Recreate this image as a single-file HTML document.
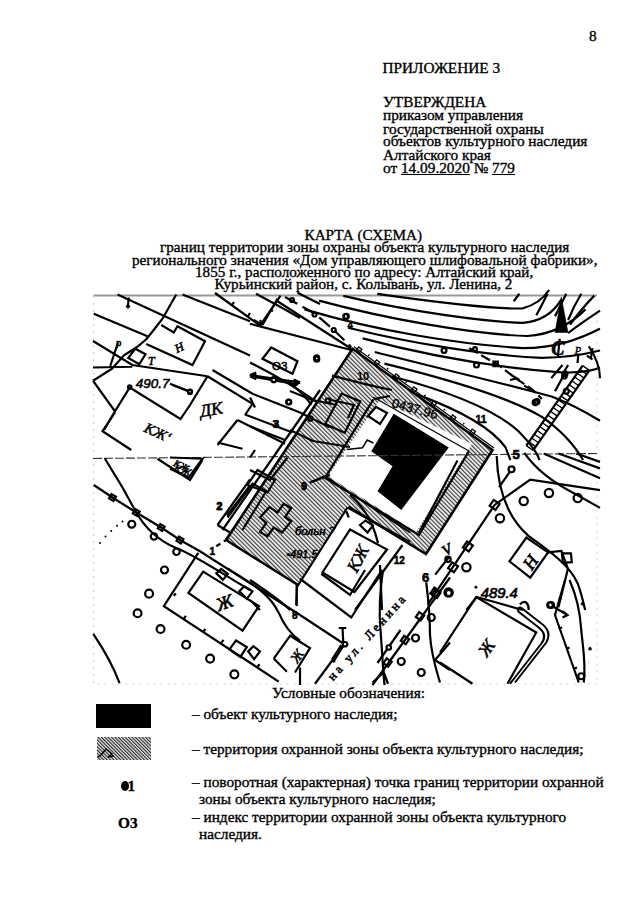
<!DOCTYPE html>
<html><head><meta charset="utf-8">
<style>
html,body{margin:0;padding:0;background:#fff;}
body{width:640px;height:905px;position:relative;overflow:hidden;font-family:"Liberation Serif",serif;color:#000;}
.t{position:absolute;white-space:nowrap;line-height:1;-webkit-text-stroke:0.35px #000;}
.hdr{font-size:15.3px;}
.ctr{font-size:15.2px;}
.leg{font-size:15.3px;}
svg{position:absolute;left:0;top:0;}
#map g[transform] text{stroke:#000;stroke-width:2.2px;}
</style></head><body>
<div class="t hdr m" style="left:589px;top:27.8px;">8</div>
<div class="t hdr m" style="left:382.5px;top:59.7px;">ПРИЛОЖЕНИЕ 3</div>
<div class="t hdr m" style="left:383px;top:94.1px;">УТВЕРЖДЕНА</div>
<div class="t hdr m" style="left:383px;top:107.4px;">приказом управления</div>
<div class="t hdr m" style="left:383px;top:120.9px;">государственной охраны</div>
<div class="t hdr m" style="left:383px;top:133.4px;">объектов культурного наследия</div>
<div class="t hdr m" style="left:383px;top:146.9px;">Алтайского края</div>
<div class="t hdr m" style="left:383px;top:160.3px;">от <u>14.09.2020</u> № <u>779</u></div>

<div class="t ctr m" style="left:304.5px;top:226.8px;">КАРТА (СХЕМА)</div>
<div class="t ctr m" style="left:160px;top:239.3px;">границ территории зоны охраны объекта культурного наследия</div>
<div class="t ctr m" style="left:132px;top:252.0px;">регионального значения «Дом управляющего шлифовальной фабрики»,</div>
<div class="t ctr m" style="left:195px;top:264.0px;">1855 г., расположенного по адресу: Алтайский край,</div>
<div class="t ctr m" style="left:214.5px;top:276.1px;">Курьинский район, с. Колывань, ул. Ленина, 2</div>

<svg id="map" width="640" height="905" viewBox="0 0 640 905">
  <path d="M93.5,295.5 L597,295.5" stroke="#999" stroke-width="1.8" fill="none"/>
  <path d="M93.5,296 L93.5,684 L597,684 L597,296" stroke="#ccc" stroke-width="1" stroke-dasharray="2 5" fill="none"/>
<!--MAP-->
<defs>
<pattern id="zh" width="3" height="3" patternUnits="userSpaceOnUse" patternTransform="rotate(-45)">
<rect width="3" height="3" fill="#f2f2f2"/>
<rect width="1.15" height="3" fill="#3a3a3a"/>
</pattern>
</defs>
<path d="M226,540 L352.5,348.75 L492.5,450 L426,554 L348.6,506.7 L298,585 Z" fill="url(#zh)" stroke="none"/>
<path d="M380,400 L472,444 L416,532 L328,476 Z" fill="#fff" stroke="none"/>
<path d="M393.75,413.75 L448.75,447.5 L401.25,510 L377.5,491.25 L392.5,466.25 L371.25,451.25 Z" fill="#000"/>
<path d="M93,458.5 L597,453.5" stroke="#333" stroke-width="1.1" stroke-dasharray="9 2" fill="none"/>
<path d="M226,540 L352.5,348.75 L492.5,450 L426,554 L348.6,506.7 M298,585 L226,540" fill="none" stroke="#000" stroke-width="2.6"/>
<path d="M373.4,399.4 L325,478 L419,535 L469,451" fill="none" stroke="#000" stroke-width="2.2"/>
<path d="M346.9,449.4 L362.5,447.8 L367.2,440 L373.4,443" fill="none" stroke="#000" stroke-width="1.5"/>
<path d="M373,397 L469,451" fill="none" stroke="#000" stroke-width="1.2"/>
<g transform="translate(90 290) scale(0.25)" fill="none" stroke="#000" stroke-width="2.2" vector-effect="non-scaling-stroke">
<path vector-effect="non-scaling-stroke" d="M110,18 L640,262 M15,95 L230,185 M370,18 L640,125"/>
<path vector-effect="non-scaling-stroke" d="M345,18 L290,115 L250,166 L225,197 L187,229 L137,260 L87,316 L12,363"/>
<path vector-effect="non-scaling-stroke" d="M285,140 L335,170 L350,145 L460,205 L410,300 L225,216"/>
<path vector-effect="non-scaling-stroke" d="M12,204 L169,300 L470,345 M12,310 L169,307 M112,210 L81,304"/>
<path vector-effect="non-scaling-stroke" d="M153,272 L181,235 L222,257 L197,297 Z"/>
<path vector-effect="non-scaling-stroke" d="M12,363 L100,485 L56,560 M100,485 L159,390 L362,516 L400,460 L470,345"/>
<path vector-effect="non-scaling-stroke" d="M328,379 L392,404"/>
<circle vector-effect="non-scaling-stroke" cx="400" cy="406" r="8"/>
<circle vector-effect="non-scaling-stroke" cx="159" cy="388" r="7"/>
<path vector-effect="non-scaling-stroke" d="M155,30 L152,60" />
<circle cx="152" cy="66" r="7" fill="#000"/>
<text x="183" y="392" font-family="Liberation Sans" font-style="italic" font-size="54" fill="#000" stroke="none" transform="rotate(0)">490.7</text>
<text x="340" y="245" font-family="Liberation Serif" font-style="italic" font-size="48" fill="#000" stroke="none" transform="rotate(-25 360 230)">Н</text>
<text x="232" y="300" font-family="Liberation Serif" font-style="italic" font-size="48" fill="#000" stroke="none">Т</text>
<text x="105" y="222" font-family="Liberation Sans" font-size="36" fill="#000" stroke="none">р</text>
</g>
<g transform="translate(250 290) scale(0.25)" fill="none" stroke="#000" stroke-width="2.2">
<path vector-effect="non-scaling-stroke" d="M110,35 L50,140 M15,120 L50,140 M50,140 L40,120"/>
<path vector-effect="non-scaling-stroke" d="M0,135 C100,160 250,200 405,240"/>
<path vector-effect="non-scaling-stroke" d="M110,45 L405,235"/>
<path vector-effect="non-scaling-stroke" stroke-dasharray="14 6" d="M140,28 L260,95 L335,160 L405,228"/>
<circle vector-effect="non-scaling-stroke" cx="168" cy="40" r="8"/>
<circle vector-effect="non-scaling-stroke" cx="258" cy="98" r="8"/>
<circle vector-effect="non-scaling-stroke" cx="335" cy="160" r="8"/>
<circle vector-effect="non-scaling-stroke" cx="385" cy="105" r="10"/>
<circle vector-effect="non-scaling-stroke" cx="267" cy="277" r="10"/>
<circle vector-effect="non-scaling-stroke" cx="155" cy="448" r="10"/>
<path vector-effect="non-scaling-stroke" d="M50,275 L85,230 L190,285 L170,335 Z"/>
<text x="88" y="318" font-family="Liberation Sans" font-size="46" fill="#000" stroke="#000" stroke-width="2">O3</text>
<text x="390" y="155" font-family="Liberation Sans" font-size="40" fill="#000" stroke="none">4</text>
<path vector-effect="non-scaling-stroke" d="M0,345 L190,378 M0,345 L25,335 M0,345 L25,357 M190,378 L170,362 M190,378 L168,385"/>
<circle vector-effect="non-scaling-stroke" cx="95" cy="357" r="9" fill="#fff"/>
<path vector-effect="non-scaling-stroke" d="M0,290 C80,330 170,380 270,450"/>
<path vector-effect="non-scaling-stroke" d="M150,360 C190,400 220,420 245,460"/>
<path vector-effect="non-scaling-stroke" d="M0,545 L140,600 M0,430 L20,470"/>
<text x="95" y="552" font-family="Liberation Sans" font-size="40" fill="#000" stroke="none">3</text>
</g>
<g transform="translate(290 290) scale(0.484375)" fill="none" stroke="#000" stroke-width="2.2">
<path vector-effect="non-scaling-stroke" d="M180,8 C300,25 420,40 480,38 C510,30 525,15 535,0"/>
<path vector-effect="non-scaling-stroke" d="M110,12 C250,45 400,65 480,68 C520,65 545,45 560,20"/>
<path vector-effect="non-scaling-stroke" d="M60,22 C200,60 380,92 490,95 C540,92 580,70 610,40"/>
<path vector-effect="non-scaling-stroke" d="M30,40 C180,85 350,112 480,120 C550,120 600,100 640,80"/>
<path vector-effect="non-scaling-stroke" d="M120,78 C250,110 400,135 520,140 C580,140 620,130 640,125"/>
<path vector-effect="non-scaling-stroke" d="M150,100 C300,140 450,162 560,170 C600,172 630,165 640,160"/>
<path vector-effect="non-scaling-stroke" d="M175,128 C320,165 450,195 540,220 C580,235 620,258 640,270"/>
<path vector-effect="non-scaling-stroke" d="M195,152 C330,185 450,220 520,262 C560,290 590,325 605,351"/>
<path vector-effect="non-scaling-stroke" d="M210,178 C330,210 420,245 470,290 C495,315 510,335 515,351"/>
<path vector-effect="non-scaling-stroke" d="M260,215 C370,255 420,290 445,325 L455,351"/>
<path vector-effect="non-scaling-stroke" stroke-dasharray="10 4" d="M370,120 L430,155 L470,185 L500,205 L520,225"/>
<circle vector-effect="non-scaling-stroke" cx="115" cy="55" r="5"/>
<circle vector-effect="non-scaling-stroke" cx="55" cy="140" r="5"/>
<circle vector-effect="non-scaling-stroke" cx="318" cy="125" r="5"/>
<circle vector-effect="non-scaling-stroke" cx="385" cy="155" r="5"/>
<circle vector-effect="non-scaling-stroke" cx="510" cy="230" r="5"/>
<circle vector-effect="non-scaling-stroke" cx="382" cy="122" r="4"/>
<rect vector-effect="non-scaling-stroke" x="420" y="148" width="9" height="9"/>
</g>
<g fill="none" stroke="#000" stroke-width="2.2">
<path d="M325.2,424 L341.6,393.6 L360.3,401.4 L344.7,432.7 Z"/>
<path d="M331,400 L354,405 L348,418"/>
<circle cx="328" cy="400.6" r="2.2"/>
<circle cx="310.3" cy="418.6" r="2.2"/>
<path d="M332,375.6 C350,380 370,386 392,390"/>
<path d="M290,391 L312,400 L337,405"/>
<path d="M290,430 L313,441 L350,447"/>
<path d="M368,416 L376,407 L387,413 L380,424 Z"/>
<path d="M374,399 L390,396"/>
<text x="357" y="380" font-family="Liberation Sans" font-weight="bold" font-size="11" fill="#000" stroke="none">10</text>
<text x="391" y="407" font-family="Liberation Sans" font-size="13" fill="#000" stroke="#000" stroke-width="0.4" transform="rotate(15 391 407)">0437.96</text>
</g>
<g fill="none" stroke="#000">
<path stroke-width="2.2" d="M533.1,450.4 L589.4,370.4 M526.3,445.6 L582.6,365.6"/>
<path stroke-width="1.3" d="M533.1,450.4 L526.3,445.6 M535.8,446.6 L528.9,441.8 M538.5,442.8 L531.6,438.0 M541.2,439.0 L534.3,434.2 M543.9,435.2 L537.0,430.3 M546.5,431.4 L539.7,426.5 M549.2,427.6 L542.4,422.7 M551.9,423.8 L545.0,418.9 M554.6,419.9 L547.7,415.1 M557.3,416.1 L550.4,411.3 M559.9,412.3 L553.1,407.5 M562.6,408.5 L555.8,403.7 M565.3,404.7 L558.4,399.9 M568.0,400.9 L561.1,396.1 M570.7,397.1 L563.8,392.2 M573.3,393.3 L566.5,388.4 M576.0,389.5 L569.2,384.6 M578.7,385.7 L571.8,380.8 M581.4,381.8 L574.5,377.0 M584.1,378.0 L577.2,373.2 M586.8,374.2 L579.9,369.4 M589.4,370.4 L582.6,365.6"/>
<path stroke-width="1.2" d="M354.0,346.7 L494.0,448.0"/>
<rect x="357.1" y="347.8" width="4" height="4" stroke-width="1.3" transform="rotate(36 359.1 349.8)"/>
<rect x="374.9" y="360.7" width="4" height="4" stroke-width="1.3" transform="rotate(36 376.9 362.7)"/>
<rect x="394.4" y="374.8" width="4" height="4" stroke-width="1.3" transform="rotate(36 396.4 376.8)"/>
<rect x="412.2" y="387.7" width="4" height="4" stroke-width="1.3" transform="rotate(36 414.2 389.7)"/>
<rect x="431.7" y="401.7" width="4" height="4" stroke-width="1.3" transform="rotate(36 433.7 403.7)"/>
<rect x="451.1" y="415.8" width="4" height="4" stroke-width="1.3" transform="rotate(36 453.1 417.8)"/>
<rect x="470.6" y="429.9" width="4" height="4" stroke-width="1.3" transform="rotate(36 472.6 431.9)"/>
<path stroke-width="1.3" d="M368.3,355.9 l1.2,-1.6"/>
<path stroke-width="1.3" d="M387.0,369.4 l1.2,-1.6"/>
<path stroke-width="1.3" d="M405.6,382.8 l1.2,-1.6"/>
<path stroke-width="1.3" d="M424.2,396.3 l1.2,-1.6"/>
<path stroke-width="1.3" d="M443.7,410.4 l1.2,-1.6"/>
<path stroke-width="1.3" d="M463.1,424.4 l1.2,-1.6"/>
</g>
<g fill="none" stroke="#000" stroke-width="2.2">
<path d="M215,293 L260,325.6 L280.6,295.6 M232,305 l2,-3 M248,316 l2,-3 M270,310 l3,1"/>
<path d="M256,293.75 L278.75,306 L300,318"/>
<path d="M297.5,292.8 L320,304"/>
</g>
<g transform="translate(90 370) scale(0.25)" fill="none" stroke="#000" stroke-width="2.2">
<path vector-effect="non-scaling-stroke" d="M100,170 L50,245 L165,320"/>
<text x="215" y="265" font-family="Liberation Serif" font-style="italic" font-size="58" fill="#000" stroke="none" transform="rotate(25 260 250)">КЖ‘</text>
</g>
<g transform="translate(410 290) scale(0.25)" fill="none" stroke="#000" stroke-width="2.2">
<path d="M605,28 L580,170 L632,170 Z" fill="#000" stroke="#000"/>
<text x="565" y="258" font-family="Liberation Serif" font-style="italic" font-weight="bold" font-size="80" fill="#000" stroke="none">С</text>
<circle vector-effect="non-scaling-stroke" cx="620" cy="335" r="10"/>
<circle vector-effect="non-scaling-stroke" cx="625" cy="405" r="10"/>
<text x="262" y="530" font-family="Liberation Sans" font-weight="bold" font-size="42" fill="#000" stroke="none">11</text>
</g>
<g transform="translate(480 290) scale(0.1875)" fill="none" stroke="#000" stroke-width="2.2">
<path vector-effect="non-scaling-stroke" d="M360,20 C340,60 320,100 300,135"/>
<path vector-effect="non-scaling-stroke" d="M460,20 C440,60 420,100 400,140"/>
<path vector-effect="non-scaling-stroke" d="M540,20 C510,70 490,110 470,160"/>
<path vector-effect="non-scaling-stroke" d="M610,30 C560,80 520,130 480,185"/>
<path vector-effect="non-scaling-stroke" d="M640,110 C580,150 520,190 470,230"/>
<path vector-effect="non-scaling-stroke" d="M180,60 L210,20"/>
<path vector-effect="non-scaling-stroke" d="M425,260 L415,360"/>
<text x="505" y="340" font-family="Liberation Serif" font-style="italic" font-size="56" fill="#000" stroke="none">Р</text>
<path vector-effect="non-scaling-stroke" d="M525,340 L520,390 M600,310 L590,370 M570,350 L600,370"/>
<path vector-effect="non-scaling-stroke" d="M380,470 L440,400 M400,540 L460,430 M440,450 L470,400"/>
<circle vector-effect="non-scaling-stroke" cx="295" cy="600" r="14"/>
<circle vector-effect="non-scaling-stroke" cx="450" cy="460" r="12"/>
<path vector-effect="non-scaling-stroke" d="M580,300 C620,360 640,420 640,470"/>
<path vector-effect="non-scaling-stroke" d="M170,455 L210,480 M160,480 L200,470 M235,510 L270,530"/>
</g>
<g transform="translate(170 370) scale(0.25)" fill="none" stroke="#000" stroke-width="2.2">
<path vector-effect="non-scaling-stroke" d="M150,25 L330,135 L300,180 M300,178 L490,250 M270,200 L460,295 M270,200 L190,300 M190,290 L290,315 M0,55 L75,85"/>
<circle vector-effect="non-scaling-stroke" cx="80" cy="88" r="8"/>
<path vector-effect="non-scaling-stroke" d="M170,0 L330,95 L520,170 L640,230"/>
<path vector-effect="non-scaling-stroke" d="M320,20 L520,50 M320,20 L345,10 M320,20 L345,32 M520,50 L495,38 M520,50 L498,60"/>
<circle vector-effect="non-scaling-stroke" cx="415" cy="40" r="9" fill="#fff"/>
<circle vector-effect="non-scaling-stroke" cx="475" cy="128" r="9"/>
<path vector-effect="non-scaling-stroke" d="M0,350 L130,355 L75,430 L0,395"/>
<text x="15" y="412" font-family="Liberation Serif" font-style="italic" font-size="44" fill="#000" stroke="none" transform="rotate(20 40 400)">КЖ</text>
<text x="120" y="180" font-family="Liberation Serif" font-style="italic" font-size="70" fill="#000" stroke="none" transform="rotate(-10 170 160)">ДК</text>
<text x="410" y="232" font-family="Liberation Sans" font-weight="bold" font-size="40" fill="#000" stroke="none">3</text>
<text x="185" y="560" font-family="Liberation Sans" font-weight="bold" font-size="40" fill="#000" stroke="none">2</text>
<text x="525" y="480" font-family="Liberation Sans" font-weight="bold" font-size="40" fill="#000" stroke="none">9</text>
<path vector-effect="non-scaling-stroke" d="M600,80 L210,640 M560,450 L640,420"/>
<path vector-effect="non-scaling-stroke" d="M350,400 L310,460 L390,490 L420,440 Z"/>
<path vector-effect="non-scaling-stroke" d="M230,590 L330,455 L385,485 L290,640"/>
</g>
<g transform="translate(90 450) scale(0.25)" fill="none" stroke="#000" stroke-width="2.2">
<path vector-effect="non-scaling-stroke" d="M270,35 L400,120 L450,40"/>
<text x="330" y="75" font-family="Liberation Serif" font-style="italic" font-size="40" fill="#000" stroke="none" transform="rotate(25 360 70)">КЖ</text>
<path vector-effect="non-scaling-stroke" d="M15,140 L90,190 L185,250 L285,310 L360,360 L440,405 L840,660"/>
<path vector-effect="non-scaling-stroke" d="M60,35 L130,150 L185,250 C220,310 270,360 340,390 C420,420 520,490 640,560"/>
<rect vector-effect="non-scaling-stroke" x="80" y="180" width="20" height="20" transform="rotate(30 90 190)"/>
<rect vector-effect="non-scaling-stroke" x="175" y="240" width="20" height="20" transform="rotate(30 185 250)"/>
<rect vector-effect="non-scaling-stroke" x="275" y="300" width="20" height="20" transform="rotate(30 285 310)"/>
<rect vector-effect="non-scaling-stroke" x="350" y="350" width="20" height="20" transform="rotate(30 360 360)"/>
<circle vector-effect="non-scaling-stroke" cx="167" cy="297" r="14"/>
<circle vector-effect="non-scaling-stroke" cx="256" cy="346" r="13"/>
<circle vector-effect="non-scaling-stroke" cx="346" cy="407" r="13"/>
<circle vector-effect="non-scaling-stroke" cx="298" cy="480" r="14"/>
<g fill="#000" stroke="none"><circle cx="40" cy="372" r="4"/><circle cx="62" cy="346" r="4"/><circle cx="85" cy="324" r="4"/><circle cx="108" cy="303" r="4"/><circle cx="130" cy="286" r="4"/></g>
<path vector-effect="non-scaling-stroke" d="M510,300 L640,118 M510,300 L560,330 M548,262 L640,142"/>
<text x="508" y="240" font-family="Liberation Sans" font-weight="bold" font-size="40" fill="#000" stroke="none">2</text>
<text x="478" y="420" font-family="Liberation Sans" font-weight="bold" font-size="40" fill="#000" stroke="none">1</text>
<path vector-effect="non-scaling-stroke" stroke-dasharray="5 4" d="M505,385 L560,350"/>
</g>
<g transform="translate(250 450) scale(0.25)" fill="none" stroke="#000" stroke-width="2.2">
<path vector-effect="non-scaling-stroke" stroke-width="2" d="M300,105 L640,330"/>
<path vector-effect="non-scaling-stroke" d="M390,230 L640,368 M390,230 L190,545"/>
<path vector-effect="non-scaling-stroke" d="M290,490 L400,318 L548,398 L418,568 Z"/>
<path vector-effect="non-scaling-stroke" d="M440,300 L462,282 L492,302 L470,330 Z"/>
<text x="370" y="480" font-family="Liberation Serif" font-style="italic" font-size="70" fill="#000" stroke="none" transform="rotate(-62 410 440)">КЖ</text>
<text x="180" y="340" font-family="Liberation Serif" font-style="italic" font-size="52" fill="#000" stroke="none">больн 7</text>
<text x="145" y="430" font-family="Liberation Sans" font-style="italic" font-size="44" fill="#000" stroke="none">•491.5</text>
<text x="575" y="455" font-family="Liberation Sans" font-weight="bold" font-size="40" fill="#000" stroke="none">12</text>
<text x="205" y="160" font-family="Liberation Sans" font-weight="bold" font-size="40" fill="#000" stroke="none">9</text>
<path vector-effect="non-scaling-stroke" d="M40,270 L78,228 L110,250 L135,215 L165,232 L140,268 L165,285 L128,330 L95,310 L70,345 L40,328 L65,292 Z"/>
<path vector-effect="non-scaling-stroke" d="M400,180 C460,230 495,300 512,372"/>
<path vector-effect="non-scaling-stroke" d="M520,460 L528,640 M610,380 L420,640"/>
<path vector-effect="non-scaling-stroke" d="M0,520 C60,560 120,600 160,640 M0,600 L40,640 M20,0 L0,30 M150,30 L80,120 L0,80"/>
<path vector-effect="non-scaling-stroke" d="M300,105 L240,130 M385,245 L395,270"/>
</g>
<g transform="translate(410 450) scale(0.296875)" fill="none" stroke="#000" stroke-width="2.2">
<path vector-effect="non-scaling-stroke" d="M160,35 L30,280"/>
<path vector-effect="non-scaling-stroke" d="M60,520 L285,185 L405,100 L640,135"/>
<rect vector-effect="non-scaling-stroke" x="273" y="173" width="24" height="24" transform="rotate(35 285 185)"/>
<rect vector-effect="non-scaling-stroke" x="183" y="313" width="24" height="24" transform="rotate(35 195 325)"/>
<rect vector-effect="non-scaling-stroke" x="133" y="383" width="24" height="24" transform="rotate(35 145 395)"/>
<rect vector-effect="non-scaling-stroke" x="73" y="468" width="24" height="24" transform="rotate(35 85 480)"/>
<path vector-effect="non-scaling-stroke" d="M292,20 C295,120 320,220 400,290 C470,340 540,390 565,450 C580,490 585,520 590,539"/>
<path vector-effect="non-scaling-stroke" d="M385,10 C420,60 480,110 560,150 L640,195"/>
<path vector-effect="non-scaling-stroke" d="M450,12 L640,95 M500,12 L640,62 M560,12 L640,40"/>
<path vector-effect="non-scaling-stroke" d="M335,375 L392,295 L465,345 L405,430 Z"/>
<text x="375" y="400" font-family="Liberation Serif" font-style="italic" font-size="60" fill="#000" stroke="none" transform="rotate(-55 400 370)">Н</text>
<path vector-effect="non-scaling-stroke" d="M512,348 L542,348 L545,378 L515,380 Z"/>
<path vector-effect="non-scaling-stroke" d="M465,345 L510,340 L532,400 L500,530"/>
<path vector-effect="non-scaling-stroke" d="M335,75 L300,125"/>
<g stroke-width="2.2">
<circle vector-effect="non-scaling-stroke" cx="342" cy="65" r="10"/>
<circle vector-effect="non-scaling-stroke" cx="383" cy="172" r="14"/>
<circle vector-effect="non-scaling-stroke" cx="468" cy="145" r="14"/>
<circle vector-effect="non-scaling-stroke" cx="565" cy="162" r="14"/>
<circle vector-effect="non-scaling-stroke" cx="303" cy="230" r="14"/>
<circle vector-effect="non-scaling-stroke" cx="190" cy="395" r="14"/>
<circle vector-effect="non-scaling-stroke" cx="130" cy="480" r="14"/>
<circle vector-effect="non-scaling-stroke" cx="475" cy="522" r="10"/>
</g>
<path vector-effect="non-scaling-stroke" d="M85,420 L130,362"/>
<circle vector-effect="non-scaling-stroke" cx="128" cy="368" r="9"/>
<text x="112" y="350" font-family="Liberation Serif" font-style="italic" font-size="50" fill="#000" stroke="none" transform="rotate(-30 130 340)">V</text>
<text x="345" y="30" font-family="Liberation Sans" font-weight="bold" font-size="44" fill="#000" stroke="none">5</text>
<text x="40" y="445" font-family="Liberation Sans" font-weight="bold" font-size="44" fill="#000" stroke="none">6</text>
<text x="238" y="498" font-family="Liberation Sans" font-style="italic" font-size="50" fill="#000" stroke="none">489.4</text>
<circle cx="222" cy="462" r="4" fill="#000"/>
<path vector-effect="non-scaling-stroke" d="M225,495 L190,539 M225,495 L380,539"/>
<path vector-effect="non-scaling-stroke" d="M370,520 C390,500 400,520 400,539"/>
</g>
<g transform="translate(90 570) scale(0.328125)" fill="none" stroke="#000" stroke-width="2.2">
<path vector-effect="non-scaling-stroke" d="M330,-52 L225,110 L575,340"/>
<path vector-effect="non-scaling-stroke" d="M255,78 L262,72 M285,150 L292,140 M345,188 L352,180 M400,222 L407,213 M510,295 L517,287"/>
<path vector-effect="non-scaling-stroke" d="M300,70 L345,5 L515,110 L465,185 Z"/>
<text x="385" y="118" font-family="Liberation Serif" font-style="italic" font-size="56" fill="#000" stroke="none" transform="rotate(-20 410 100)">Ж</text>
<path vector-effect="non-scaling-stroke" d="M385,10 L400,-3 L420,12 L405,30 Z M455,65 L470,50 L495,65 L478,88 Z"/>
<path vector-effect="non-scaling-stroke" d="M425,242 L445,215 L478,235 L458,265 Z M482,248 L498,232 L518,248 L500,272 Z"/>
<path vector-effect="non-scaling-stroke" d="M560,270 L610,200 L645,222 M560,270 L600,310"/>
<path vector-effect="non-scaling-stroke" d="M420,-5 C470,30 540,60 575,130 C590,165 610,195 640,215"/>
<path vector-effect="non-scaling-stroke" d="M630,40 L630,110"/>
<circle vector-effect="non-scaling-stroke" cx="180" cy="72" r="12"/>
<circle vector-effect="non-scaling-stroke" cx="145" cy="132" r="12"/>
<circle vector-effect="non-scaling-stroke" cx="215" cy="180" r="12"/>
<circle vector-effect="non-scaling-stroke" cx="293" cy="228" r="12"/>
<circle vector-effect="non-scaling-stroke" cx="366" cy="270" r="12"/>
<circle vector-effect="non-scaling-stroke" cx="440" cy="318" r="12"/>
<path vector-effect="non-scaling-stroke" d="M10,195 C40,240 70,290 90,345"/>
</g>
<g transform="translate(290 570) scale(0.25)" fill="none" stroke="#000" stroke-width="2.2">
<path vector-effect="non-scaling-stroke" d="M40,35 L245,190 L368,0"/>
<path vector-effect="non-scaling-stroke" d="M125,15 L240,100 L300,0"/>
<path vector-effect="non-scaling-stroke" d="M28,62 L25,140"/>
<text x="8" y="195" font-family="Liberation Sans" font-weight="bold" font-size="40" fill="#000" stroke="none">8</text>
<path vector-effect="non-scaling-stroke" d="M40,180 L215,295 M210,230 L213,290 M195,232 L225,232"/>
<circle vector-effect="non-scaling-stroke" cx="220" cy="297" r="9" fill="#fff"/>
<path vector-effect="non-scaling-stroke" d="M215,300 L175,365 M205,300 L168,358 M170,350 L178,370"/>
<path vector-effect="non-scaling-stroke" d="M215,300 L100,455"/>
<path vector-effect="non-scaling-stroke" d="M0,262 L80,312 L20,410"/>
<text x="0" y="360" font-family="Liberation Serif" font-style="italic" font-size="56" fill="#000" stroke="none" transform="rotate(-55 30 340)">Ж</text>
<path vector-effect="non-scaling-stroke" d="M40,390 L40,460"/>
<text x="172" y="445" font-family="Liberation Serif" font-size="50" fill="#000" stroke="none" letter-spacing="12" transform="rotate(-48 172 445)">на ул. Ленина</text>
<path vector-effect="non-scaling-stroke" d="M372,0 C360,80 355,160 362,240 C368,320 372,400 378,460"/>
<path vector-effect="non-scaling-stroke" d="M330,460 L640,30"/>
<rect vector-effect="non-scaling-stroke" x="573" y="83" width="24" height="24" transform="rotate(35 585 95)"/>
<rect vector-effect="non-scaling-stroke" x="508" y="173" width="24" height="24" transform="rotate(35 520 185)"/>
<rect vector-effect="non-scaling-stroke" x="448" y="268" width="24" height="24" transform="rotate(35 460 280)"/>
<rect vector-effect="non-scaling-stroke" x="378" y="358" width="24" height="24" transform="rotate(35 390 370)"/>
<path vector-effect="non-scaling-stroke" d="M350,372 L442,240"/>
<circle vector-effect="non-scaling-stroke" cx="395" cy="310" r="9" fill="#fff"/>
<circle vector-effect="non-scaling-stroke" cx="565" cy="190" r="14"/>
<circle vector-effect="non-scaling-stroke" cx="502" cy="272" r="14"/>
<circle vector-effect="non-scaling-stroke" cx="445" cy="366" r="14"/>
<circle vector-effect="non-scaling-stroke" cx="525" cy="410" r="14"/>
<path vector-effect="non-scaling-stroke" d="M545,50 C555,130 560,200 560,260 C565,340 585,400 600,450"/>
<path vector-effect="non-scaling-stroke" d="M580,360 L640,290 M580,360 L640,400"/>
<path vector-effect="non-scaling-stroke" d="M330,450 L375,410 L392,455"/>
</g>
<g transform="translate(440 580) scale(0.25)" fill="none" stroke="#000" stroke-width="2.2">
<path vector-effect="non-scaling-stroke" d="M0,290 L145,68 L385,210 L270,415 M0,330 L130,415"/>
<text x="150" y="300" font-family="Liberation Serif" font-style="italic" font-size="70" fill="#000" stroke="none" transform="rotate(-55 180 270)">Ж</text>
<path vector-effect="non-scaling-stroke" stroke-width="2" d="M300,410 L425,250 C445,215 430,190 400,170 L330,115 C315,100 305,120 318,130 L395,190 C420,210 425,230 405,255 L280,415"/>
<circle vector-effect="non-scaling-stroke" cx="35" cy="52" r="12"/>
<circle vector-effect="non-scaling-stroke" cx="440" cy="100" r="11"/>
<path vector-effect="non-scaling-stroke" d="M450,105 L510,140 M490,125 L510,140 L490,150"/>
<path vector-effect="non-scaling-stroke" d="M500,0 L460,140 L555,410 M518,0 C545,60 560,120 565,200 C570,260 585,330 575,410"/>
<path vector-effect="non-scaling-stroke" d="M475,75 L488,72 M475,195 L488,190 M505,275 L518,270 M535,355 L548,350"/>
<circle cx="570" cy="95" r="6" fill="#000"/>
<circle cx="600" cy="275" r="6" fill="#000"/>
<circle vector-effect="non-scaling-stroke" cx="565" cy="385" r="12"/>
</g>
</svg>

<div class="t leg m" style="left:272px;top:685.1px;">Условные обозначения:</div>
<div style="position:absolute;left:96px;top:704px;width:55px;height:23.5px;background:#000;"></div>
<div class="t leg m" style="left:192px;top:706.1px;">– объект культурного наследия;</div>
<svg style="position:absolute;left:97px;top:737px" width="54" height="23"><defs><pattern id="lh" width="2.4" height="2.4" patternUnits="userSpaceOnUse" patternTransform="rotate(-45)"><rect width="2.4" height="2.4" fill="#e8e8e8"/><rect width="1.1" height="2.4" fill="#222"/></pattern></defs><rect width="54" height="23" fill="url(#lh)"/><path d="M1 20 L4 18 L9 12 L15 17 L11 20 L17 19" stroke="#000" stroke-width="1.4" fill="none"/></svg>
<div class="t leg m" style="left:192px;top:741.1px;">– территория охранной зоны объекта культурного наследия;</div>
<div style="position:absolute;left:120.5px;top:781px;width:8px;height:10px;border-radius:50%;background:#000;"></div>
<div class="t leg m" style="left:127.5px;top:778.0px;font-weight:bold;">1</div>
<div class="t leg m" style="left:192px;top:774.1px;">– поворотная (характерная) точка границ территории охранной</div>
<div class="t leg m" style="left:199px;top:790.9px;">зоны объекта культурного наследия;</div>
<div class="t leg m" style="left:118px;top:815.2px;font-weight:bold;">О3</div>
<div class="t leg m" style="left:192px;top:808.9px;">– индекс территории охранной зоны объекта культурного</div>
<div class="t leg m" style="left:199px;top:825.7px;">наследия.</div>
</body></html>
